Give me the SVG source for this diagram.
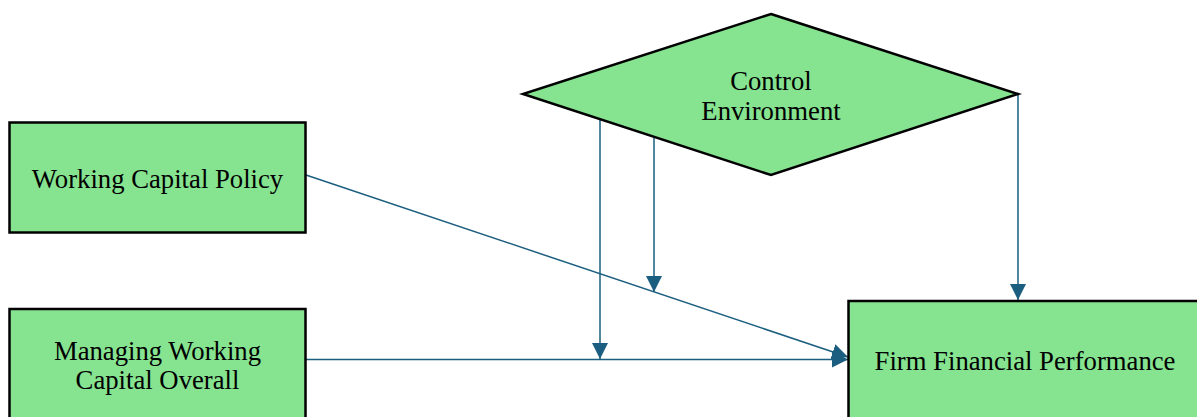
<svg xmlns="http://www.w3.org/2000/svg" width="1197" height="417" viewBox="0 0 1197 417">
  <style>
    .node { fill: #86E390; stroke: #000000; stroke-width: 2.5; }
    .label { font-family: "Liberation Serif", "Times New Roman", serif; font-size: 26.7px; fill: #000000; text-anchor: middle; }
    .conn { fill: none; stroke: #1B5E80; stroke-width: 1.5; marker-end: url(#arrow); }
  </style>
  <defs>
    <marker id="arrow" markerUnits="userSpaceOnUse" markerWidth="17" markerHeight="17" refX="16" refY="8" orient="auto">
      <path d="M0,0 L16,8 L0,16 Z" fill="#1B5E80"/>
    </marker>
  </defs>
  <rect width="1197" height="417" fill="#FFFFFF"/>
  <g id="connectors">
    <line class="conn" x1="306" y1="175" x2="848" y2="357"/>
    <line class="conn" x1="306" y1="359.5" x2="848" y2="359.5"/>
    <line class="conn" x1="600" y1="119.5" x2="600" y2="359"/>
    <line class="conn" x1="654" y1="137" x2="654" y2="292"/>
    <line class="conn" x1="1018" y1="94" x2="1018" y2="300"/>
  </g>
  <g id="control-environment">
    <polygon class="node" points="771,14 1018,94 771,175 523,94"/>
    <text class="label" x="771" y="90">Control</text>
    <text class="label" x="771" y="120">Environment</text>
  </g>
  <g id="working-capital-policy">
    <rect class="node" x="9.5" y="122.5" width="296" height="110"/>
    <text class="label" x="157.5" y="188">Working Capital Policy</text>
  </g>
  <g id="managing-working-capital-overall">
    <rect class="node" x="9.5" y="309" width="296" height="112"/>
    <text class="label" x="157.5" y="360">Managing Working</text>
    <text class="label" x="157.5" y="389">Capital Overall</text>
  </g>
  <g id="firm-financial-performance">
    <rect class="node" x="848.5" y="301" width="352" height="122"/>
    <text class="label" x="1025" y="370">Firm Financial Performance</text>
  </g>
</svg>
